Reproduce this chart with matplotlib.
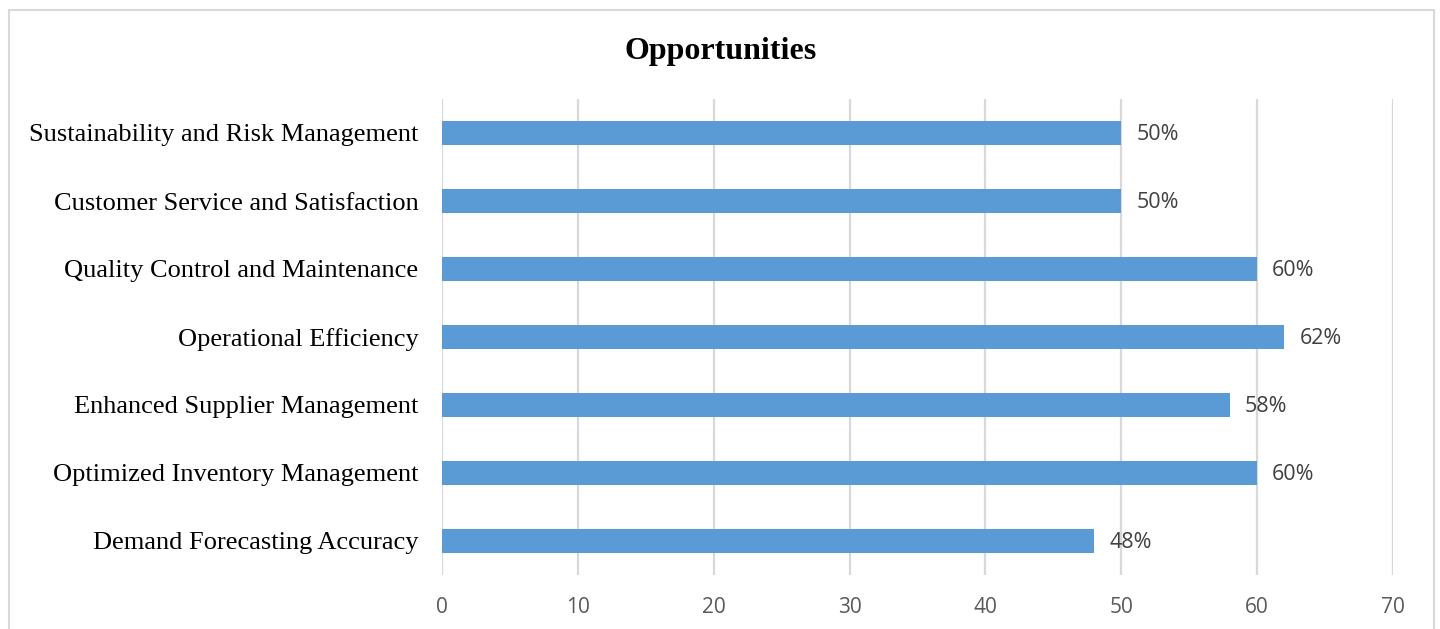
import matplotlib
matplotlib.use('Agg')
import matplotlib.pyplot as plt
from matplotlib.patches import Rectangle

categories = ['Demand Forecasting Accuracy', 'Optimized Inventory Management',
              'Enhanced Supplier Management', 'Operational Efficiency',
              'Quality Control and Maintenance', 'Customer Service and Satisfaction',
              'Sustainability and Risk Management']
values = [48, 60, 58, 62, 60, 50, 50]
xticks = [0, 10, 20, 30, 40, 50, 60, 70]

W, H = 1440, 629
fig = plt.figure(figsize=(W / 100, H / 100), dpi=100)
ax = fig.add_axes([442 / W, 1 - 575 / H, (1393 - 442) / W, (575 - 99) / H])

ypos = list(range(len(categories)))
ax.barh(ypos, values, height=0.35, color='#5B9BD5', zorder=3)
for y, v in zip(ypos, values):
    ax.annotate(f'{v}%', (v, y), xytext=(15, -2), textcoords='offset pixels',
                ha='left', va='center', fontsize=15.5, color='#404040',
                family='Open Sans')

ax.set_xlim(0, 70)
ax.set_ylim(-0.5, 6.5)
ax.set_xticks(xticks)
ax.set_xticklabels([str(t) for t in xticks], family='Open Sans', fontsize=15, color='#595959')
ax.set_yticks(ypos)
ax.set_yticklabels(categories, family='Liberation Serif', fontsize=19, color='black')
ax.tick_params(axis='both', length=0)
ax.tick_params(axis='x', pad=16)
ax.tick_params(axis='y', pad=17)
ax.grid(True, axis='x', color='#D9D9D9', linewidth=1.6, zorder=0)
for s in ax.spines.values():
    s.set_visible(False)

fig.text(721 / W, 1 - 51 / H, 'Opportunities', ha='center', va='center',
         family='Liberation Serif', fontweight='bold', fontsize=23)

fig.patches.append(Rectangle((9 / W, -0.05), (1434 - 9) / W, 1 - 10 / H + 0.05,
                             transform=fig.transFigure, fill=False,
                             edgecolor='#D9D9D9', linewidth=1.5))

fig.savefig('out.png', dpi=100)
